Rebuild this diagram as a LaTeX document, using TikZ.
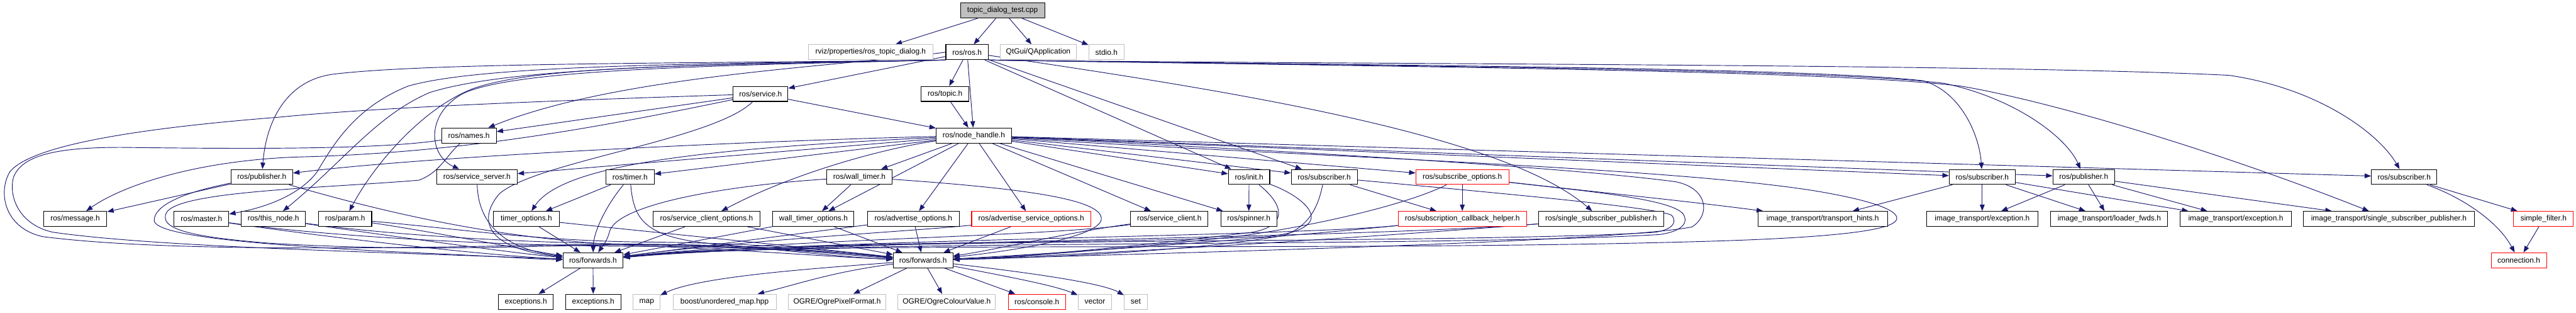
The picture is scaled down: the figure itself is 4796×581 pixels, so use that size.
\documentclass[tikz,border=0pt]{standalone}
\usepackage{fontspec}
\setmainfont{Liberation Sans}
\usetikzlibrary{arrows.meta}
\pgfdeclarelayer{bg}
\pgfsetlayers{bg,main}
\definecolor{edgec}{HTML}{191970}
\definecolor{grayb}{HTML}{BFBFBF}
\definecolor{redb}{HTML}{FF0000}
\tikzset{
  box/.style={draw=black, line width=1.2pt, fill=white, minimum height=28pt, inner sep=0pt, font=\fontsize{14}{16}\selectfont},
  extbox/.style={box, draw=grayb},
  redbox/.style={box, draw=redb},
  edg/.style={draw=edgec, line width=1.1pt, -{Triangle[length=12pt,width=9pt]}},
}
\newcommand{\mkbox}[5]{\node[#1, minimum width=#2pt] (#3) at (#4) {#5};}
\begin{document}
\begin{tikzpicture}[x=1pt,y=-1pt]
\useasboundingbox (0,0) rectangle (4796,581);
% row 0
\mkbox{box,fill=grayb}{157}{tdt}{1866.5,19.5}{topic\_dialog\_test.cpp}
% row 1
\mkbox{extbox}{232}{rvizd}{1621,97}{rviz/properties/ros\_topic\_dialog.h}
\mkbox{box}{79}{rosh}{1800.5,97}{ros/ros.h}
\mkbox{extbox}{142}{qapp}{1933,97}{QtGui/QApplication}
\mkbox{extbox}{66}{stdio}{2060,97}{stdio.h}
% row 2
\mkbox{box}{102}{service}{1416,174.5}{ros/service.h}
\mkbox{box}{89}{topic}{1759.5,174.5}{ros/topic.h}
% row 3
\mkbox{box}{102}{names}{873,252}{ros/names.h}
\mkbox{box}{140}{nh}{1813,252}{ros/node\_handle.h}
% row 4
\mkbox{box}{115}{puba}{487.5,329}{ros/publisher.h}
\mkbox{box}{150}{srvserver}{888,329}{ros/service\_server.h}
\mkbox{box}{90}{timer}{1173,329}{ros/timer.h}
\mkbox{box}{122}{walltimer}{1600,329}{ros/wall\_timer.h}
\mkbox{box}{77}{init}{2325.5,329}{ros/init.h}
\mkbox{box}{123}{suba}{2465.5,329}{ros/subscriber.h}
\mkbox{redbox}{173}{subopts}{2722.5,329}{ros/subscribe\_options.h}
\mkbox{box}{123}{subb}{3690.5,329}{ros/subscriber.h}
\mkbox{box}{115}{pubb}{3879.5,329}{ros/publisher.h}
\mkbox{box}{122}{subc}{4476,329}{ros/subscriber.h}
% row 5
\mkbox{box}{118}{message}{140,407}{ros/message.h}
\mkbox{box}{102}{master}{375,407}{ros/master.h}
\mkbox{box}{120}{thisnode}{509,407}{ros/this\_node.h}
\mkbox{box}{99}{param}{642.5,407}{ros/param.h}
\mkbox{box}{122}{timeropts}{980,407}{timer\_options.h}
\mkbox{box}{199}{sco}{1315.5,407}{ros/service\_client\_options.h}
\mkbox{box}{151}{wto}{1514.5,407}{wall\_timer\_options.h}
\mkbox{box}{171}{advopts}{1700.5,407}{ros/advertise\_options.h}
\mkbox{redbox}{222}{aso}{1920,407}{ros/advertise\_service\_options.h}
\mkbox{box}{144}{srvclient}{2177,407}{ros/service\_client.h}
\mkbox{box}{104}{spinner}{2325,407}{ros/spinner.h}
\mkbox{redbox}{239}{sch}{2722.5,407}{ros/subscription\_callback\_helper.h}
\mkbox{box}{232}{ssp}{2981,407}{ros/single\_subscriber\_publisher.h}
\mkbox{box}{241}{hints}{3393.5,407}{image\_transport/transport\_hints.h}
\mkbox{box}{207}{itexca}{3690.5,407}{image\_transport/exception.h}
\mkbox{box}{218}{loader}{3927,407}{image\_transport/loader\_fwds.h}
\mkbox{box}{207}{itexcb}{4162.5,407}{image\_transport/exception.h}
\mkbox{box}{319}{itssp}{4447.5,407}{image\_transport/single\_subscriber\_publisher.h}
\mkbox{redbox}{111}{sfilter}{4735.5,407}{simple\_filter.h}
% row 6
\mkbox{box}{112}{fwda}{1104,484}{ros/forwards.h}
\mkbox{box}{111}{fwdb}{1718.5,484}{ros/forwards.h}
\mkbox{redbox}{103}{conn}{4689.5,484}{connection.h}
% row 7
\mkbox{box}{102}{exca}{979,561}{exceptions.h}
\mkbox{box}{103}{excb}{1104.5,561}{exceptions.h}
\mkbox{extbox}{50}{map}{1204,561}{map}
\mkbox{extbox}{192}{unmap}{1349,561}{boost/unordered\_map.hpp}
\mkbox{extbox}{181}{pixfmt}{1558.5,561}{OGRE/OgrePixelFormat.h}
\mkbox{extbox}{181}{colval}{1762.5,561}{OGRE/OgreColourValue.h}
\mkbox{redbox}{107}{console}{1930.5,561}{ros/console.h}
\mkbox{extbox}{63}{vector}{2038.5,561}{vector}
\mkbox{extbox}{43}{set}{2114.5,561}{set}

\begin{pgfonlayer}{bg}
% top
\draw[edg] (tdt) -- (rvizd);
\draw[edg] (tdt) -- (rosh);
\draw[edg] (tdt) -- (qapp);
\draw[edg] (tdt) -- (stdio);
% ros.h
\draw[edg] (rosh) -- (topic);
\draw[edg] (rosh) -- (nh);
\draw[edg] (rosh) -- (service);
\draw[edg] (rosh.west) .. controls (1550,125) and (1150,140) .. (names);
\draw[edg] (rosh.south west) .. controls (1300,118) and (800,116) .. (620,138) .. controls (530,150) and (495,230) .. (puba);
\draw[edg] (rosh.south west) .. controls (1300,119) and (900,120) .. (760,160) .. controls (660,200) and (620,270) .. (590,320) .. controls (560,360) and (500,385) .. (master);
\draw[edg] (rosh.south west) .. controls (1300,120) and (950,125) .. (800,172) .. controls (700,215) and (640,300) .. (thisnode);
\draw[edg] (rosh.south west) .. controls (1300,121) and (1000,122) .. (880,165) .. controls (790,200) and (700,300) .. (param);
\draw[edg] (rosh.south west) .. controls (1300,122) and (950,130) .. (860,175) .. controls (790,215) and (800,290) .. (srvserver);
\draw[edg] (rosh) -- (init);
\draw[edg] (rosh) -- (suba);
\draw[edg] (rosh) .. controls (2300,170) and (2800,250) .. (ssp);
\draw[edg] (rosh.south east) .. controls (2500,120) and (3700,118) .. (4150,140) .. controls (4320,165) and (4430,250) .. (subc);
\draw[edg] (rosh.south east) .. controls (2600,122) and (3350,125) .. (3580,150) .. controls (3650,170) and (3685,250) .. (subb);
\draw[edg] (rosh.south east) .. controls (2600,123) and (3400,128) .. (3620,155) .. controls (3760,185) and (3850,260) .. (pubb);
\draw[edg] (rosh.south east) .. controls (2600,124) and (3400,130) .. (3650,160) .. controls (3800,185) and (4100,270) .. (itssp);
% node_handle.h
\draw[edg] (nh) .. controls (1400,262) and (800,290) .. (puba);
\draw[edg] (nh) -- (srvserver);
\draw[edg] (nh) -- (timer);
\draw[edg] (nh) .. controls (1350,275) and (1050,300) .. (timeropts);
\draw[edg] (nh) .. controls (1650,275) and (1480,320) .. (sco);
\draw[edg] (nh) -- (walltimer);
\draw[edg] (nh) -- (wto);
\draw[edg] (nh) -- (advopts);
\draw[edg] (nh) -- (aso);
\draw[edg] (nh) -- (srvclient);
\draw[edg] (nh) -- (spinner);
\draw[edg] (nh) -- (init);
\draw[edg] (nh) -- (suba);
\draw[edg] (nh) -- (subopts);
\draw[edg] (nh) -- (subb);
\draw[edg] (nh) -- (pubb);
\draw[edg] (nh) -- (subc);
\draw[edg] (nh) .. controls (2400,290) and (3100,310) .. (3380,355) .. controls (3500,375) and (3540,395) .. (3530,410) .. controls (3520,425) and (3450,440) .. (3200,448) .. controls (2500,470) and (1500,445) .. (fwda);
\draw[edg] (nh) .. controls (2500,285) and (2950,315) .. (3120,338) .. controls (3180,350) and (3185,400) .. (3150,422) .. controls (3000,450) and (2200,470) .. (fwdb);
% service.h
\draw[edg] (service) -- (names);
\draw[edg] (service) -- (nh);
\draw[edg] (service) .. controls (1100,240) and (850,285) .. (550,292) .. controls (350,300) and (220,350) .. (message);
\draw[edg] (service) .. controls (1330,260) and (1000,300) .. (930,360) .. controls (895,400) and (890,460) .. (fwda);
\draw[edg] (service) .. controls (1000,188) and (700,200) .. (518,218) .. controls (300,235) and (60,265) .. (18,320) .. controls (-5,360) and (10,425) .. (80,440) .. controls (300,468) and (700,462) .. (1000,456) .. controls (1300,450) and (1550,468) .. (fwdb);
% names.h
\draw[edg] (names) .. controls (700,280) and (400,276) .. (225,274) .. controls (100,274) and (40,290) .. (25,330) .. controls (15,370) and (40,420) .. (100,432) .. controls (300,460) and (700,468) .. (fwda);
\draw[edg] (names) .. controls (830,290) and (820,320) .. (780,335) .. controls (600,350) and (335,355) .. (310,395) .. controls (295,425) and (350,440) .. (500,452) .. controls (800,470) and (1000,455) .. (1200,455) .. controls (1450,455) and (1580,472) .. (fwdb);
% publisher.h (left)
\draw[edg] (puba) -- (message);
\draw[edg] (puba) .. controls (330,360) and (287,385) .. (287,410) .. controls (289,440) and (500,458) .. (820,472) .. controls (950,478) and (1000,482) .. (fwda);
\draw[edg] (puba) .. controls (700,390) and (900,440) .. (1150,455) .. controls (1400,465) and (1550,478) .. (fwdb);
% master / this_node / param
\draw[edg] (master) .. controls (600,440) and (900,475) .. (fwda);
\draw[edg] (master) .. controls (650,445) and (1000,458) .. (1200,458) .. controls (1450,458) and (1580,475) .. (fwdb);
\draw[edg] (thisnode) .. controls (700,435) and (950,470) .. (fwda);
\draw[edg] (thisnode) .. controls (750,440) and (1000,452) .. (1200,454) .. controls (1450,456) and (1580,472) .. (fwdb);
\draw[edg] (param) .. controls (800,430) and (980,465) .. (fwda);
\draw[edg] (param) .. controls (850,425) and (1000,448) .. (1200,450) .. controls (1450,452) and (1580,470) .. (fwdb);
% service_server
\draw[edg] (srvserver) .. controls (890,400) and (920,460) .. (fwda);
% timer
\draw[edg] (timer) -- (timeropts);
\draw[edg] (timer) .. controls (1130,380) and (1105,430) .. (fwda);
\draw[edg] (timer) .. controls (1180,410) and (1200,445) .. (1350,455) .. controls (1500,470) and (1600,480) .. (fwdb);
% wall_timer
\draw[edg] (walltimer) -- (wto);
\draw[edg] (walltimer) .. controls (1350,345) and (1150,380) .. (1135,430) .. controls (1130,450) and (1120,460) .. (fwda);
\draw[edg] (walltimer) .. controls (1900,350) and (2060,370) .. (2050,410) .. controls (2040,440) and (1900,465) .. (fwdb);
% options etc.
\draw[edg] (timeropts) -- (fwda);
\draw[edg] (timeropts) .. controls (1200,430) and (1500,460) .. (fwdb);
\draw[edg] (sco) -- (fwda);
\draw[edg] (sco) -- (fwdb);
\draw[edg] (wto) -- (fwda);
\draw[edg] (wto) -- (fwdb);
\draw[edg] (advopts) -- (fwdb);
\draw[edg] (advopts) -- (fwda);
\draw[edg] (aso) -- (fwdb);
\draw[edg] (aso) .. controls (1700,430) and (1400,445) .. (fwda);
\draw[edg] (srvclient) .. controls (2000,430) and (1850,465) .. (fwdb);
\draw[edg] (srvclient) .. controls (1950,440) and (1450,445) .. (fwda);
% init
\draw[edg] (init) -- (spinner);
\draw[edg] (init) .. controls (2390,380) and (2400,420) .. (2330,432) .. controls (2100,460) and (1900,478) .. (fwdb);
\draw[edg] (init) .. controls (2400,355) and (2450,385) .. (2440,410) .. controls (2430,428) and (2400,435) .. (2360,440) .. controls (2000,455) and (1500,445) .. (fwda);
% subscriber (a)
\draw[edg] (suba) -- (sch);
\draw[edg] (suba) .. controls (2455,380) and (2440,420) .. (2390,438) .. controls (2200,470) and (1900,480) .. (fwdb);
\draw[edg] (suba) .. controls (2800,360) and (3080,385) .. (3112,400) .. controls (3125,415) and (3110,428) .. (3080,432) .. controls (2700,455) and (1500,440) .. (fwda);
% subscribe_options
\draw[edg] (subopts) -- (sch);
\draw[edg] (subopts) .. controls (3000,360) and (3150,375) .. (hints);
\draw[edg] (subopts) .. controls (2620,380) and (2450,420) .. (2300,440) .. controls (2100,462) and (1900,478) .. (fwdb);
\draw[edg] (subopts) .. controls (2950,355) and (3120,370) .. (3135,400) .. controls (3145,420) and (3120,432) .. (3090,436) .. controls (2700,460) and (1500,445) .. (fwda);
% callback helper, single subscriber publisher
\draw[edg] (sch) .. controls (2400,440) and (2000,470) .. (fwdb);
\draw[edg] (sch) .. controls (2400,440) and (1500,445) .. (fwda);
\draw[edg] (ssp) .. controls (2500,445) and (2000,475) .. (fwdb);
\draw[edg] (ssp) .. controls (2500,445) and (1500,448) .. (fwda);
% forwards outputs
\draw[edg] (fwda) -- (exca);
\draw[edg] (fwda) -- (excb);
\draw[edg] (fwdb) .. controls (1500,500) and (1300,515) .. (map);
\draw[edg] (fwdb) .. controls (1550,505) and (1480,530) .. (unmap);
\draw[edg] (fwdb) -- (pixfmt);
\draw[edg] (fwdb) -- (colval);
\draw[edg] (fwdb) -- (console);
\draw[edg] (fwdb) .. controls (1880,515) and (1960,530) .. (vector);
\draw[edg] (fwdb) .. controls (1900,505) and (2050,525) .. (set);
% others
\draw[edg] (topic) -- (nh);
\draw[edg] (subb) -- (hints);
\draw[edg] (subb) -- (itexca);
\draw[edg] (subb) -- (loader);
\draw[edg] (subb) -- (itexcb);
\draw[edg] (pubb) -- (itexca);
\draw[edg] (pubb) -- (loader);
\draw[edg] (pubb) -- (itexcb);
\draw[edg] (pubb) -- (itssp);
\draw[edg] (subc) -- (sfilter);
\draw[edg] (subc) .. controls (4580,365) and (4650,410) .. (conn);
\draw[edg] (sfilter) -- (conn);
\end{pgfonlayer}
\end{tikzpicture}
\end{document}
